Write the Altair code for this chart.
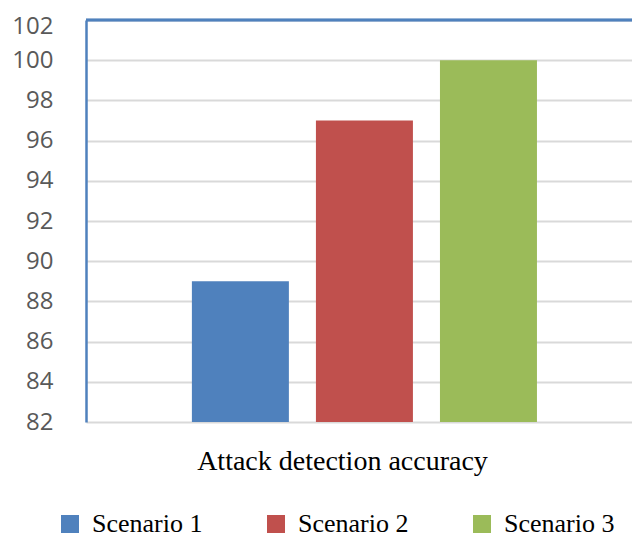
import altair as alt
import pandas as pd

scenarios = ["Scenario 1", "Scenario 2", "Scenario 3"]
accuracy = [89, 97, 100]
colors = ["#4F81BD", "#C0504D", "#9BBB59"]
y_ticks = [82, 84, 86, 88, 90, 92, 94, 96, 98, 100, 102]
x_title = "Attack detection accuracy"

df = pd.DataFrame({"Scenario": scenarios, "Accuracy": accuracy})

bars = alt.Chart(df).mark_bar().encode(
    x=alt.X("Scenario:N",
            scale=alt.Scale(domain=scenarios, paddingInner=0.218,
                            paddingOuter=0.81, align=0.527),
            axis=alt.Axis(labels=False, ticks=False, domain=False, title=x_title,
                          titleFont="Liberation Serif", titleFontSize=28,
                          titleFontWeight="normal", titleColor="#000000",
                          titleX=256, titleY=47, titleAlign="center",
                          titleBaseline="alphabetic")),
    y=alt.Y("Accuracy:Q",
            scale=alt.Scale(domain=[82, 102], zero=False, nice=False),
            axis=alt.Axis(values=y_ticks, title=None, ticks=False,
                          labelFont="Open Sans", labelFontSize=24,
                          labelColor="#595959", labelPadding=33,
                          labelOffset={"condition": {"test": "datum.value >= 102", "value": 6}, "value": 0},
                          domainColor="#4F81BD", domainWidth=2.5,
                          gridColor="#D9D9D9", gridWidth=2)),
    y2=alt.datum(82),
    color=alt.Color("Scenario:N",
                    scale=alt.Scale(domain=scenarios, range=colors),
                    legend=alt.Legend(title=None, orient="none", direction="horizontal",
                                      legendX=-29, legendY=491,
                                      symbolType="square", symbolSize=324,
                                      symbolStrokeWidth=0,
                                      labelFont="Liberation Serif", labelFontSize=26,
                                      labelColor="#000000", labelOffset=9,
                                      columnPadding=60)),
)

top_line = alt.Chart(df).mark_rule(color="#4F81BD", strokeWidth=2.5).encode(
    y=alt.datum(102)
)

chart = alt.layer(bars, top_line).properties(
    width=546, height=402,
    autosize=alt.AutoSizeParams(type="none"),
    padding={"left": 78, "top": 12, "right": 0, "bottom": 116},
).configure_view(stroke=None)

chart.save("out.html", embed_options={"renderer": "svg", "actions": False})
